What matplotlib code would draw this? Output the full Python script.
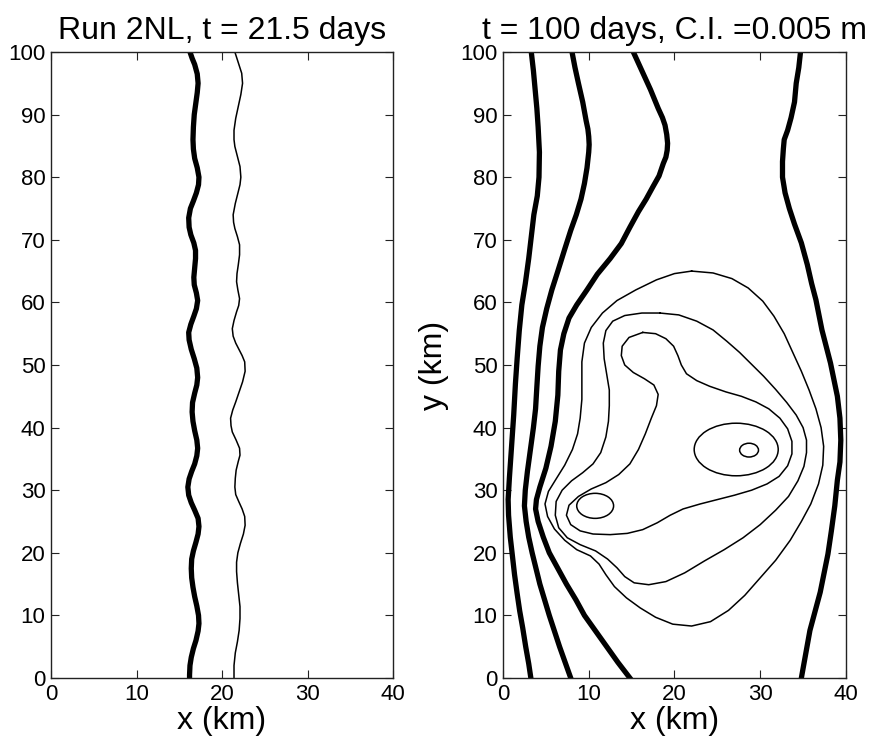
import matplotlib
matplotlib.use('Agg')
import matplotlib.pyplot as plt
from matplotlib.patches import Ellipse

plt.rcParams['font.family'] = ['Liberation Sans', 'DejaVu Sans']

# ---- left panel, t = 21.5 days (y in km, x in km) ----
left_thick_y = [100, 99, 98, 96.5, 95, 93.5, 92, 90, 88, 86, 84.5, 83, 81.5, 80, 78.8, 77.5, 76.2, 75,
                73.5, 72, 70.8, 69.5, 68.3, 67, 65.5, 64, 62.8, 61.5, 60.3, 59, 57.8, 56.5, 55.2, 54,
                52.5, 51, 49.5, 48, 46.8, 45.5, 44, 42.5, 41, 39.5, 38, 36.7, 35.5, 34.2, 33, 31.8,
                30.5, 29.2, 28, 26.8, 25.5, 24.2, 23, 21.7, 20.3, 19, 17.5, 16, 14.5, 13, 11.5, 10,
                8.7, 7.5, 6, 4.7, 3.3, 2, 0.5, 0]
left_thick_x = [16.25, 16.5, 16.8, 17.1, 17.2, 17.1, 16.95, 16.75, 16.65, 16.6, 16.65, 16.8, 17.1, 17.3,
                17.25, 17.0, 16.65, 16.3, 16.1, 16.15, 16.35, 16.7, 16.9, 16.9, 16.8, 16.7, 16.75, 17.0,
                17.15, 17.0, 16.7, 16.35, 16.1, 16.15, 16.4, 16.75, 17.05, 17.15, 17.05, 16.8, 16.55,
                16.5, 16.6, 16.8, 17.05, 17.15, 17.05, 16.8, 16.45, 16.15, 16.0, 16.1, 16.4, 16.8,
                17.2, 17.3, 17.2, 16.95, 16.65, 16.45, 16.4, 16.45, 16.6, 16.8, 17.05, 17.25, 17.3,
                17.2, 16.95, 16.65, 16.4, 16.25, 16.2, 16.2]

left_thin_y = [100, 98.3, 96.6, 95, 93.2, 91.3, 89.4, 87.5, 86, 84.9, 83.3, 81.7, 80, 78.8, 77.7, 75.8,
               74, 72.8, 71.8, 70.5, 69.2, 67.6, 66, 64.6, 63.3, 62, 60.6, 59.5, 58.5, 57.1, 55.8,
               54.6, 53.5, 52.7, 51.5, 50.5, 49, 47.3, 45.7, 44.1, 42.8, 41.5, 40.3, 39.3, 38, 36.7,
               35.6, 34.6, 33.2, 31.9, 30.5, 29.3, 28.2, 27, 25.8, 24.4, 23, 21.5, 20, 18.5, 17,
               15.2, 13.3, 11.4, 9.5, 7.6, 5.8, 4.0, 2, 0]
left_thin_x = [21.5, 21.9, 22.3, 22.4, 22.2, 21.9, 21.6, 21.4, 21.4, 21.5, 21.8, 22.1, 22.2, 22.1, 21.9,
               21.55, 21.3, 21.35, 21.5, 21.8, 22.05, 22.05, 21.9, 21.75, 21.7, 21.85, 22.05, 21.95,
               21.7, 21.4, 21.2, 21.3, 21.6, 21.9, 22.35, 22.65, 22.7, 22.4, 22.0, 21.6, 21.25, 21.0,
               21.05, 21.2, 21.65, 22.05, 22.1, 21.9, 21.65, 21.55, 21.5, 21.6, 21.95, 22.35, 22.65,
               22.7, 22.5, 22.15, 21.85, 21.7, 21.7, 21.8, 21.95, 22.1, 22.1, 22.0, 21.8, 21.55,
               21.4, 21.4]

# ---- right panel, t = 100 days: thick contours ----
t1_x = [3.3, 3.55, 3.75, 3.95, 4.1, 4.25, 4.2, 4.0, 3.6, 3.3, 3.0, 2.6, 2.2, 1.9, 1.65, 1.45, 1.25,
        1.0, 0.75, 0.6, 0.65, 0.85, 1.1, 1.35, 1.65, 1.95, 2.3, 2.65, 3.0, 3.25]
t1_y = [100, 97, 94, 91, 88, 84, 80, 77, 74, 70.5, 67, 63, 59.6, 55.5, 51, 47, 42,
        37, 32, 28.5, 26, 22.5, 19.5, 16.5, 13.5, 10.7, 8, 5, 2.3, 0]

t2_x = [8.05, 8.4, 8.8, 9.3, 9.7, 9.9, 10.0, 10.05, 10.0, 9.8, 9.5, 9.1, 8.55, 7.9, 7.2, 6.4, 5.7,
        5.1, 4.6, 4.3, 4.1, 3.95, 3.8, 3.55, 3.2, 2.85, 2.6, 2.5, 2.7, 3.0, 3.4, 3.85, 4.3, 4.85,
        5.4, 6.0, 6.6, 7.25, 7.9]
t2_y = [100, 97.5, 95, 92, 89, 87.7, 86.5, 85.2, 84, 81.5, 79, 76.5, 74, 71.5, 68.5, 65, 62,
        59, 56, 53, 49.8, 46.5, 43, 40, 36.5, 33, 30, 27.5, 25, 22.5, 20, 17.5, 15, 12.5,
        10, 7.5, 5, 2.5, 0]

t3_x = [15.2, 16.2, 17.2, 18.1, 18.6, 18.9, 19.1, 19.2, 19.15, 19.0, 18.7, 18.2, 17.5, 16.7, 15.8,
        14.8, 13.8, 12.5, 11.0, 9.8, 8.6, 7.7, 7.1, 6.7, 6.5, 6.4, 6.1, 5.6, 5.0, 4.3, 3.9, 3.8,
        4.1, 4.7, 5.4, 6.4, 7.4, 8.5, 9.5, 10.8, 12.1, 13.4, 14.8]
t3_y = [100, 97, 94, 91, 89.5, 88.3, 86.8, 85.4, 84.3, 83.2, 82.2, 80.2, 78.5, 76.5, 74.5,
        72, 69.4, 67, 64.5, 62.0, 59.6, 57.5, 55, 52.4, 49, 45.2, 41, 37, 33.5, 30.5, 28.5, 27,
        25, 22.5, 20, 17.5, 15, 12.5, 10, 7.5, 5, 2.5, 0]

t4_x = [34.7, 34.5, 34.2, 34.0, 33.6, 33.2, 32.8, 32.7, 32.6, 32.6, 32.9, 33.4, 34.0, 34.8, 35.5,
        36.0, 36.5, 37.2, 38.2, 39.0, 39.3, 39.4, 39.3, 39.0, 38.7, 38.3, 37.9, 37.0, 35.8, 34.8]
t4_y = [100, 97.5, 95, 92, 89.5, 87.5, 86, 84.5, 82.5, 80, 77.5, 75, 72.5, 69.5, 66,
        63, 60.4, 55.6, 50.3, 45.0, 41.5, 38, 34.5, 31.6, 27.5, 23.5, 19.8, 13.7, 7.6, 0]

# ---- right panel: thin closed contours ----
ca_x = [22.0, 24.5, 26.7, 28.6, 30.3, 31.6, 32.8, 33.8, 34.8, 35.7, 36.5, 37.1, 37.4, 37.3, 36.8,
        35.9, 34.8, 33.5, 31.8, 30.0, 28.2, 26.3, 24.2, 22.0, 19.8, 17.8, 16.0, 14.4, 13.0, 12.0,
        11.2, 10.2, 8.6, 7.2, 6.0, 5.2, 4.9, 5.3, 6.2, 7.2, 8.1, 8.7, 9.0, 9.2, 9.2, 9.2, 9.5,
        10.3, 11.6, 13.3, 15.5, 17.9, 20.0, 22.0]
ca_y = [65.0, 64.7, 63.8, 62.3, 60.2, 57.8, 55.0, 52.0, 49.0, 46.0, 43.0, 40.0, 37.0, 34.0, 31.0,
        27.8, 25.0, 22.0, 18.8, 16.0, 13.2, 10.8, 9.0, 8.3, 8.6, 9.7, 11.2, 12.8, 14.6, 16.5,
        18.2, 19.5, 20.5, 22.0, 23.8, 25.8, 27.8, 29.8, 31.8, 34.0, 36.5, 39.0, 41.5, 44.5, 47.5,
        50.5, 53.5, 56.0, 58.3, 60.3, 62.0, 63.6, 64.6, 65.0]

cb_x = [18.3, 20.5, 22.6, 24.5, 26.1, 27.6, 29.0, 30.4, 31.8, 33.1, 34.2, 35.0, 35.4, 35.4, 35.1,
        34.4, 33.3, 31.8, 30.0, 28.0, 25.8, 23.5, 21.2, 19.0, 17.0, 15.3, 14.2, 13.3, 12.2, 10.8,
        9.0, 7.5, 6.5, 6.1, 6.2, 6.9, 8.0, 9.3, 10.5, 11.4, 12.0, 12.3, 12.4, 12.4, 12.1, 11.8,
        11.7, 12.0, 12.8, 14.2, 16.2, 18.3]
cb_y = [58.3, 58.0, 57.0, 55.6, 53.8, 52.0, 50.1, 48.2, 46.1, 44.0, 42.0, 40.0, 38.0, 36.0, 33.8,
        31.5, 29.0, 26.8, 24.5, 22.4, 20.5, 18.7, 16.8, 15.4, 14.9, 15.2, 16.2, 17.6, 19.0, 20.3,
        21.3, 22.4, 24.0, 26.0, 28.2, 30.0, 31.5, 32.8, 34.2, 36.0, 38.5, 41.0, 43.5, 46.0, 48.5,
        51.0, 53.5, 55.5, 57.0, 57.9, 58.3, 58.3]

cc_x = [16.3, 17.8, 19.0, 19.9, 20.4, 20.8, 21.4, 22.6, 24.1, 26.0, 27.8, 29.5, 31.0, 32.3, 33.2,
        33.7, 33.7, 33.2, 32.2, 30.8, 29.0, 27.0, 25.0, 23.0, 21.0, 19.5, 18.0, 16.3, 14.5, 12.5,
        10.5, 9.0, 7.9, 7.4, 7.7, 8.8, 10.3, 12.0, 13.5, 14.8, 15.8, 16.6, 17.3, 17.9, 18.1,
        17.6, 16.5, 15.2, 14.2, 13.8, 13.9, 14.7, 16.3]
cc_y = [55.2, 55.0, 54.2, 53.0, 51.5, 50.0, 48.6, 47.5, 46.6, 45.7, 45.0, 44.1, 43.0, 41.5, 39.8,
        37.8, 35.8, 33.9, 32.2, 31.0, 30.0, 29.2, 28.5, 27.8, 27.0, 26.0, 24.8, 23.7, 23.1, 22.9,
        23.0, 23.5, 24.5, 26.0, 27.6, 29.0, 30.2, 31.2, 32.5, 34.2, 36.5, 39.0, 41.5, 43.5, 45.3,
        46.8, 47.8, 48.8, 50.0, 51.5, 53.0, 54.4, 55.2]

# small closed ovals: centre x, centre y, width, height (km)
oval_cx = [10.75, 27.2, 28.7]
oval_cy = [27.5, 36.5, 36.4]
oval_w = [4.3, 9.8, 2.2]
oval_h = [4.0, 8.4, 2.2]

fig = plt.figure(figsize=(8.74, 7.49), dpi=100)
ax1 = fig.add_axes([0.0584, 0.0948, 0.3913, 0.8358])
ax2 = fig.add_axes([0.5755, 0.0948, 0.3924, 0.8358])

thick = 3.8
thin = 1.1

ax1.plot(left_thick_x, left_thick_y, color='black', lw=thick, solid_joinstyle='round')
ax1.plot(left_thin_x, left_thin_y, color='black', lw=thin, solid_joinstyle='round')

for xs, ys in [(t1_x, t1_y), (t2_x, t2_y), (t3_x, t3_y), (t4_x, t4_y)]:
    ax2.plot(xs, ys, color='black', lw=thick, solid_joinstyle='round')
for xs, ys in [(ca_x, ca_y), (cb_x, cb_y), (cc_x, cc_y)]:
    ax2.plot(xs, ys, color='black', lw=thin, solid_joinstyle='round')
for cx, cy, w, h in zip(oval_cx, oval_cy, oval_w, oval_h):
    ax2.add_patch(Ellipse((cx, cy), w, h, fill=False, edgecolor='black', lw=thin))

for ax in (ax1, ax2):
    ax.set_xlim(0, 40)
    ax.set_ylim(0, 100)
    ax.set_xticks([0, 10, 20, 30, 40])
    ax.set_yticks(range(0, 101, 10))
    ax.tick_params(direction='in', top=True, right=True, length=6, width=0.8,
                   labelsize=16, pad=4, colors='#222222', labelcolor='black')
    for s in ax.spines.values():
        s.set_linewidth(1.0)
        s.set_color('#222222')
    ax.set_xlabel('x (km)', fontsize=23, labelpad=1)

ax1.set_title('Run 2NL, t = 21.5 days', fontsize=23, pad=9)
ax2.set_title('t = 100 days, C.I. =0.005 m', fontsize=23, pad=9)
ax2.set_ylabel('y (km)', fontsize=23, labelpad=8)

fig.savefig('out.png', dpi=100)
